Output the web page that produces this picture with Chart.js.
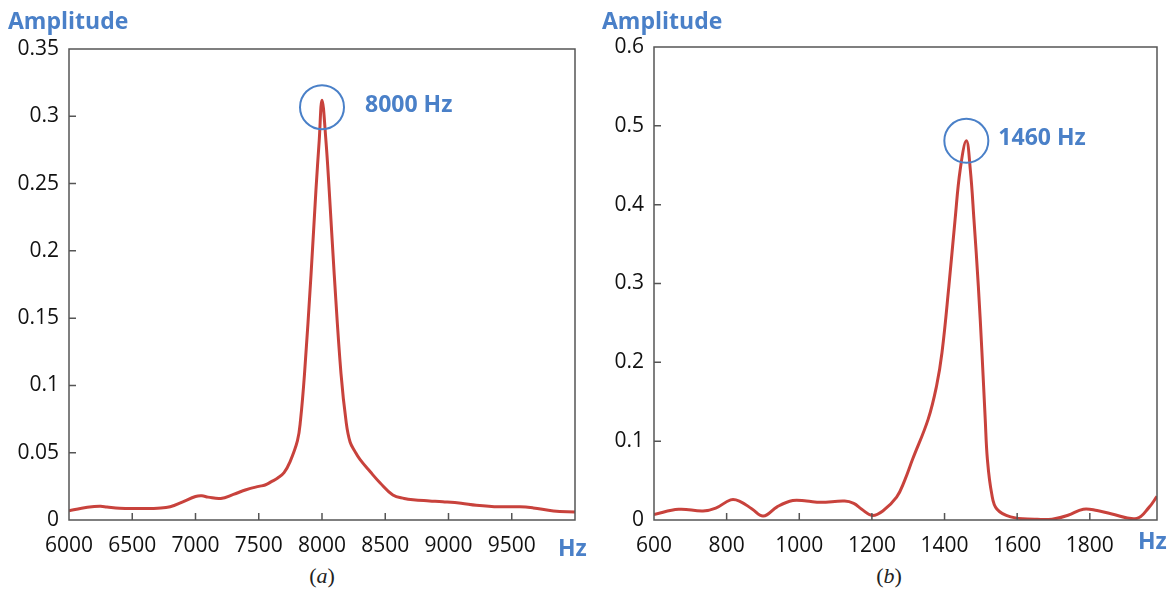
<!DOCTYPE html>
<html>
<head>
<meta charset="utf-8">
<script src="https://cdn.jsdelivr.net/npm/chart.js@4"></script>
<style>
  body { margin: 0; background: #fff; width: 1168px; height: 592px; position: relative; overflow: hidden; }
  .panel { position: absolute; top: 0; height: 560px; }
  #panelA { left: 0; width: 590px; }
  #panelB { left: 585px; width: 583px; }
  .caption { position: absolute; top: 563px; width: 40px; text-align: center; font: 22px "Liberation Serif", serif; color: #222; }
</style>
</head>
<body>
<div class="panel" id="panelA"><canvas id="chartA"></canvas></div>
<div class="panel" id="panelB"><canvas id="chartB"></canvas></div>
<div class="caption" style="left:302px">(<i>a</i>)</div>
<div class="caption" style="left:869px">(<i>b</i>)</div>
<script>
// spectrum (a): 6000 - 10000 Hz
const freqA = [6000, 6100, 6200, 6250, 6300, 6400, 6500, 6600, 6700, 6800, 6900, 7000, 7050, 7100, 7200,
  7300, 7400, 7500, 7550, 7600, 7650, 7700, 7746, 7806, 7830, 7862, 7913, 7952, 7978, 8000, 8031, 8057,
  8097, 8150, 8192, 8222, 8260, 8300, 8380, 8460, 8560, 8650, 8720, 8850, 8955, 9100, 9220, 9400, 9565,
  9670, 9830, 10000];
const ampA = [0.0068, 0.0088, 0.0100, 0.0102, 0.0097, 0.0088, 0.0085, 0.0086, 0.0088, 0.0098, 0.0135,
  0.0175, 0.0180, 0.0170, 0.0160, 0.0190, 0.0225, 0.0250, 0.0260, 0.0285, 0.0312, 0.0352, 0.0430, 0.0590,
  0.0740, 0.1090, 0.1820, 0.2450, 0.2820, 0.3120, 0.2820, 0.2450, 0.1820, 0.1090, 0.0720, 0.0580, 0.0510,
  0.0450, 0.0360, 0.0275, 0.0186, 0.0160, 0.0150, 0.0142, 0.0136, 0.0125, 0.0110, 0.0098, 0.0099, 0.0090,
  0.0067, 0.0060];
const xTicksA = [6000, 6500, 7000, 7500, 8000, 8500, 9000, 9500];
const yTicksA = [0, 0.05, 0.1, 0.15, 0.2, 0.25, 0.3, 0.35];
const yLabelsA = ['0', '0.05', '0.1', '0.15', '0.2', '0.25', '0.3', '0.35'];
const peakA = 8000;

// spectrum (b): 600 - 1985 Hz
const freqB = [600, 668, 735, 770, 811, 835, 870, 901, 940, 982, 1020, 1059, 1125, 1150, 1172, 1201, 1230,
  1268, 1290, 1312, 1355, 1378, 1393, 1412, 1429, 1443, 1460, 1471, 1481, 1493, 1503, 1512, 1518, 1530,
  1544, 1582, 1648, 1696, 1740, 1782, 1820, 1858, 1929, 1963, 1985];
const ampB = [0.0070, 0.0135, 0.0115, 0.0150, 0.0255, 0.0240, 0.0140, 0.0050, 0.0170, 0.0247, 0.0240,
  0.0224, 0.0240, 0.0210, 0.0137, 0.0058, 0.0115, 0.0290, 0.0500, 0.0770, 0.1280, 0.1700, 0.2125, 0.2970,
  0.3810, 0.4440, 0.4810, 0.4440, 0.3810, 0.2970, 0.2125, 0.1280, 0.0770, 0.0330, 0.0140, 0.0040, 0.0010,
  0.0010, 0.0060, 0.0137, 0.0120, 0.0080, 0.0020, 0.0160, 0.0300];
const xTicksB = [600, 800, 1000, 1200, 1400, 1600, 1800];
const yTicksB = [0, 0.1, 0.2, 0.3, 0.4, 0.5, 0.6];
const yLabelsB = ['0', '0.1', '0.2', '0.3', '0.4', '0.5', '0.6'];
const peakB = 1460;

const lineRed = '#c8423c';
const labelBlue = '#4a80c8';
const tickFont = { family: 'Open Sans', size: 21 };

// box frame, inward tick marks, peak circle and the blue labels
const framePlugin = {
  id: 'frame',
  afterDraw(chart, args, o) {
    const { ctx, chartArea: a, scales: { x, y } } = chart;
    ctx.save();
    ctx.strokeStyle = '#555';
    ctx.lineWidth = 1.5;
    ctx.strokeRect(a.left, a.top, a.right - a.left, a.bottom - a.top);
    ctx.beginPath();
    x.ticks.forEach(t => {
      if (t.value === x.min) return;
      const px = x.getPixelForValue(t.value);
      ctx.moveTo(px, a.bottom);
      ctx.lineTo(px, a.bottom - 7);
    });
    y.ticks.forEach(t => {
      if (t.value === y.min || t.value === y.max) return;
      const py = y.getPixelForValue(t.value);
      ctx.moveTo(a.left, py);
      ctx.lineTo(a.left + 7, py);
    });
    ctx.stroke();

    // circle round the peak
    const ds = chart.data.datasets[0].data;
    const top = ds.find(p => p.x === o.peak);
    const cx = x.getPixelForValue(top.x);
    const cy = y.getPixelForValue(top.y) + o.circleDy;
    ctx.strokeStyle = labelBlue;
    ctx.lineWidth = 2;
    ctx.beginPath();
    ctx.arc(cx, cy, 22, 0, Math.PI * 2);
    ctx.stroke();

    ctx.fillStyle = labelBlue;
    ctx.font = 'bold 23px "Open Sans"';
    ctx.textBaseline = 'alphabetic';
    ctx.textAlign = 'left';
    ctx.fillText(o.peak + ' Hz', cx + o.labelDx, cy + o.labelDy);
    ctx.fillText('Amplitude', o.titleX, 29);
    ctx.fillText('Hz', o.unitX, o.unitY);
    ctx.restore();
  }
};

function makeChart(id, freq, amp, xTicks, yTicks, yLabels, xMax, yMax, pad, frameOpts) {
  return new Chart(document.getElementById(id), {
    type: 'line',
    data: {
      datasets: [{
        data: freq.map((f, i) => ({ x: f, y: amp[i] })),
        borderColor: lineRed,
        borderWidth: 3,
        pointRadius: 0,
        tension: 0.4,
        fill: false
      }]
    },
    options: {
      responsive: true,
      maintainAspectRatio: false,
      animation: false,
      layout: { padding: pad },
      plugins: {
        legend: { display: false },
        tooltip: { enabled: false },
        frame: frameOpts
      },
      scales: {
        x: {
          type: 'linear',
          min: xTicks[0],
          max: xMax,
          afterBuildTicks: s => { s.ticks = xTicks.map(v => ({ value: v })); },
          afterFit: s => { s.height = 40; },
          grid: { display: false, drawTicks: false },
          border: { display: false },
          ticks: { font: tickFont, color: '#111', padding: 13, maxRotation: 0, autoSkip: false,
            callback: v => String(v) }
        },
        y: {
          min: 0,
          max: yMax,
          afterBuildTicks: s => { s.ticks = yTicks.map(v => ({ value: v })); },
          afterFit: s => { s.width = 69; },
          grid: { display: false, drawTicks: false },
          border: { display: false },
          ticks: { font: tickFont, color: '#111', padding: 10, callback: (v, i) => yLabels[i] }
        }
      }
    },
    plugins: [framePlugin]
  });
}

makeChart('chartA', freqA, ampA, xTicksA, yTicksA, yLabelsA, 10000, 0.35,
  { top: 49, right: 15, left: 0, bottom: 0 },
  { peak: peakA, circleDy: 7, labelDx: 43, labelDy: 5, titleX: 8, unitX: 558, unitY: 556 });

makeChart('chartB', freqB, ampB, xTicksB, yTicksB, yLabelsB, 1985, 0.6,
  { top: 47, right: 11, left: 0, bottom: 0 },
  { peak: peakB, circleDy: 0, labelDx: 32, labelDy: 4, titleX: 17, unitX: 553, unitY: 549 });
</script>
</body>
</html>
